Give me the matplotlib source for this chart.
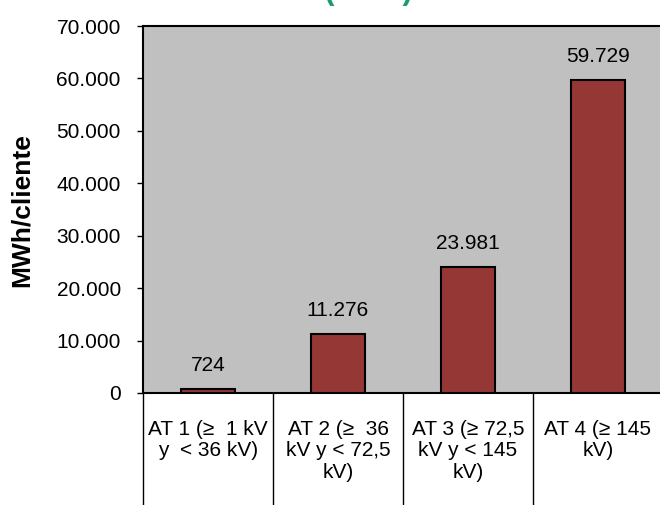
import matplotlib
matplotlib.use("Agg")
import matplotlib.pyplot as plt
from matplotlib.ticker import FuncFormatter

plt.rcParams['font.family'] = ['Liberation Sans', 'DejaVu Sans']

# datos
categorias = ["AT 1 (\u2265  1 kV\ny  < 36 kV)",
              "AT 2 (\u2265  36\nkV y < 72,5\nkV)",
              "AT 3 (\u2265 72,5\nkV y < 145\nkV)",
              "AT 4 (\u2265 145\nkV)"]
valores = [724, 11276, 23981, 59729]
titulo = "Tarifas AT (2008)"
y_ticks = [0, 10000, 20000, 30000, 40000, 50000, 60000, 70000]


def miles(v, pos=None):
    return "{:,.0f}".format(v).replace(",", ".")


fig = plt.figure(figsize=(6.6, 5.05), dpi=100)
ax = fig.add_axes([143/660, 1-393/505, 520/660, (393-26)/505])
ax.set_facecolor('#C0C0C0')

x = range(len(valores))
ax.bar(x, valores, width=0.41, color='#953735', edgecolor='black', linewidth=1.5, zorder=3)
for xi, v in zip(x, valores):
    ax.annotate(miles(v), (xi, v), xytext=(0, 10), textcoords='offset points',
                ha='center', va='bottom', fontsize=15)

ax.set_xlim(-0.5, len(valores) - 0.5)
ax.set_ylim(0, 70000)
ax.set_yticks(y_ticks)
ax.yaxis.set_major_formatter(FuncFormatter(miles))
ax.tick_params(axis='y', direction='out', length=4, width=1, labelsize=15, pad=12)
ax.set_xticks([])

for s in ax.spines.values():
    s.set_linewidth(1.5)
    s.set_color('black')

# lineas de separacion de categorias
for b in range(len(valores)):
    ax.plot([b - 0.5, b - 0.5], [0, -0.32], transform=ax.get_xaxis_transform(),
            color='black', linewidth=1, clip_on=False)

# etiquetas de categoria
for xi, c in zip(x, categorias):
    ax.text(xi, -27/367, c, transform=ax.get_xaxis_transform(), ha='center', va='top',
            fontsize=15, linespacing=1.15)

fig.text(22/660, 1-210/505, "MWh/cliente", rotation=90, ha='center', va='center',
         fontsize=19, fontweight='bold')
fig.text(292/660, 1+1/505, titulo, ha='center', va='baseline', fontsize=22,
         fontweight='bold', color='#1A9A70')

fig.savefig('out.png', dpi=100)
